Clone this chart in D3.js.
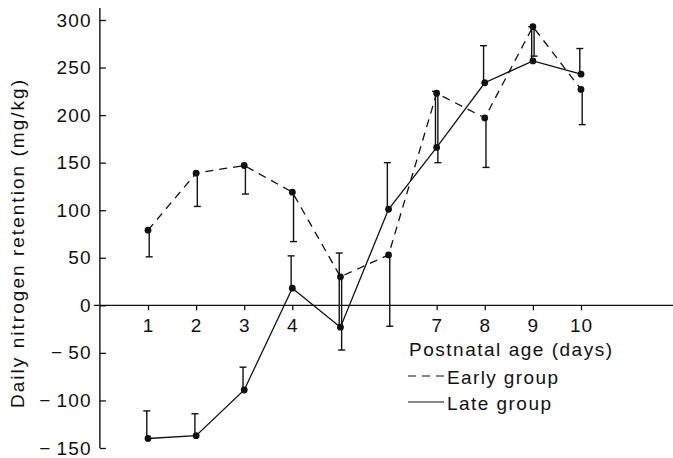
<!DOCTYPE html>
<html>
<head>
<meta charset="utf-8">
<title>Daily nitrogen retention</title>
<script src="https://cdn.jsdelivr.net/npm/d3@7/dist/d3.min.js"></script>
<style>
	body { margin: 0; background: #fff; }
	text { font-family: "Liberation Sans", Arial, Helvetica, sans-serif; fill: #111; }
</style>
</head>
<body>
<div id="chart"></div>
<script>
// postnatal age (days)
var days = [1, 2, 3, 4, 5, 6, 7, 8, 9, 10];
// early group: mean and the end of its (downward) error bar
var earlyMean = [79, 139, 147, 119, 30, 53, 223, 197, 293, 227];
var earlyLow  = [51, 104, 117, 67, -47, -22, 150, 145, 262, 190];
// late group: mean and the end of its (upward) error bar
var lateMean  = [-140, -137, -89, 18, -23, 101, 166, 234, 257, 243];
var lateHigh  = [-111, -114, -65, 52, 55, 150, 225, 273, 293, 270];

var xTicks = [1, 2, 3, 4, 7, 8, 9, 10];
var yTicks = [-150, -100, -50, 0, 50, 100, 150, 200, 250, 300];

var W = 673, H = 458;
var ink = "#111";

var svg = d3.select("#chart").append("svg")
	.attr("width", W)
	.attr("height", H);

var x = d3.scaleLinear().domain([1, 10]).range([148, 581]);
var y = d3.scaleLinear().domain([-150, 300]).range([448, 20]);

/* axes */
var yAxis = d3.axisLeft(y)
	.tickValues(yTicks)
	.tickSizeInner(-6)
	.tickSizeOuter(0)
	.tickPadding(8)
	.tickFormat(function(d) { return d < 0 ? "\u2212\u2009" + Math.abs(d) : d; });

var gy = svg.append("g")
	.attr("transform", "translate(" + x(0) + ",0)")
	.call(yAxis);
gy.select(".domain").remove();
gy.selectAll("line").attr("stroke", ink).attr("stroke-width", 1.3);
gy.selectAll("text")
	.style("font-size", "19px")
	.style("letter-spacing", "1.2px")
	.attr("fill", ink);
gy.append("line")
	.attr("x1", 0).attr("x2", 0)
	.attr("y1", 8).attr("y2", y(-150))
	.attr("stroke", ink).attr("stroke-width", 1.4);

var xAxis = d3.axisBottom(x)
	.tickValues(xTicks)
	.tickSizeInner(5)
	.tickSizeOuter(0)
	.tickPadding(8)
	.tickFormat(d3.format("d"));

var gx = svg.append("g")
	.attr("transform", "translate(0," + y(0) + ")")
	.call(xAxis);
gx.select(".domain").remove();
gx.selectAll("line").attr("stroke", ink).attr("stroke-width", 1.3);
gx.selectAll("text")
	.style("font-size", "19px")
	.style("letter-spacing", "1px")
	.attr("fill", ink);
gx.append("line")
	.attr("x1", x(0) - 6).attr("x2", W)
	.attr("y1", 0).attr("y2", 0)
	.attr("stroke", ink).attr("stroke-width", 1.4);

/* axis titles */
svg.append("text")
	.attr("transform", "translate(24," + 244 + ") rotate(-90)")
	.attr("text-anchor", "middle")
	.attr("textLength", 328)
	.attr("lengthAdjust", "spacing")
	.style("font-size", "19px")
	.text("Daily nitrogen retention (mg/kg)");

svg.append("text")
	.attr("x", 409)
	.attr("y", 356)
	.attr("textLength", 203)
	.attr("lengthAdjust", "spacing")
	.style("font-size", "19px")
	.text("Postnatal age (days)");

/* series */
var early = days.map(function(d, i) { return { day: d, v: earlyMean[i], e: earlyLow[i] }; });
var late  = days.map(function(d, i) { return { day: d, v: lateMean[i], e: lateHigh[i] }; });

var line = d3.line()
	.x(function(d) { return x(d.day); })
	.y(function(d) { return y(d.v); });

function drawSeries(data, dash, off) {
	var g = svg.append("g");
	g.append("path")
		.datum(data)
		.attr("d", line)
		.attr("fill", "none")
		.attr("stroke", ink)
		.attr("stroke-width", 1.3)
		.attr("stroke-dasharray", dash);

	var bars = g.selectAll(".bar")
		.data(data)
		.enter().append("g")
		.attr("class", "bar");
	bars.append("line")
		.attr("x1", function(d) { return x(d.day) + off; })
		.attr("x2", function(d) { return x(d.day) + off; })
		.attr("y1", function(d) { return y(d.v); })
		.attr("y2", function(d) { return y(d.e); })
		.attr("stroke", ink)
		.attr("stroke-width", 1.4);
	bars.append("line")
		.attr("x1", function(d) { return x(d.day) + off - 3.5; })
		.attr("x2", function(d) { return x(d.day) + off + 3.5; })
		.attr("y1", function(d) { return y(d.e); })
		.attr("y2", function(d) { return y(d.e); })
		.attr("stroke", ink)
		.attr("stroke-width", 1.4);

	g.selectAll("circle")
		.data(data)
		.enter().append("circle")
		.attr("cx", function(d) { return x(d.day); })
		.attr("cy", function(d) { return y(d.v); })
		.attr("r", 3.4)
		.attr("fill", ink);
}

drawSeries(early, "8,6", 1.2);
drawSeries(late, null, -1.2);

/* legend */
var legend = [
	{ label: "Early group", dash: "8,6", y: 376, len: 111 },
	{ label: "Late group", dash: null, y: 402, len: 104 }
];
var lg = svg.selectAll(".legend")
	.data(legend)
	.enter().append("g")
	.attr("class", "legend");
lg.append("line")
	.attr("x1", 408).attr("x2", 444)
	.attr("y1", function(d) { return d.y; })
	.attr("y2", function(d) { return d.y; })
	.attr("stroke", ink)
	.attr("stroke-width", 1.2)
	.attr("stroke-dasharray", function(d) { return d.dash; });
lg.append("text")
	.attr("x", 447)
	.attr("y", function(d) { return d.y + 8; })
	.attr("textLength", function(d) { return d.len; })
	.attr("lengthAdjust", "spacing")
	.style("font-size", "19px")
	.text(function(d) { return d.label; });
</script>
</body>
</html>
